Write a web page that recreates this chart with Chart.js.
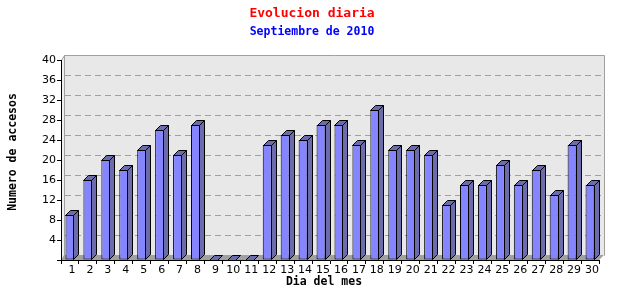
<!DOCTYPE html>
<html>
<head>
<meta charset="utf-8">
<script src="https://cdn.jsdelivr.net/npm/chart.js@4/dist/chart.umd.min.js"></script>
<style>
  html, body { margin: 0; padding: 0; background: #fff; }
  #wrap { width: 640px; height: 300px; }
</style>
</head>
<body>
<div id="wrap"><canvas id="myChart" width="640" height="300"></canvas></div>
<script>
// datos del grafico
const dias = ['1','2','3','4','5','6','7','8','9','10','11','12','13','14','15',
  '16','17','18','19','20','21','22','23','24','25','26','27','28','29','30'];
const accesos = [9, 16, 20, 18, 22, 26, 21, 27, 0, 0, 0, 23, 25, 24, 27,
  27, 23, 30, 22, 22, 21, 11, 15, 15, 19, 15, 18, 13, 23, 15];
const yMax = 40;
const yStep = 4;

const titulo = 'Evolucion diaria';
const subtitulo = 'Septiembre de 2010';
const tituloX = 'Dia del mes';
const tituloY = 'Numero de accesos';

// profundidad del efecto 3D
const DX = 5, DY = 5, WALL_DX = 3;

// pared del fondo, suelo y lineas de guia
const wallPlugin = {
  id: 'wall3d',
  beforeDraw(chart) {
    const ctx = chart.ctx;
    const a = chart.chartArea;
    const y = chart.scales.y;
    ctx.save();
    // pared lateral
    ctx.fillStyle = '#f0f0f0';
    ctx.beginPath();
    ctx.moveTo(a.left, a.top);
    ctx.lineTo(a.left + WALL_DX, a.top - DY);
    ctx.lineTo(a.left + WALL_DX, a.bottom - DY);
    ctx.lineTo(a.left, a.bottom);
    ctx.closePath();
    ctx.fill();
    // pared del fondo
    ctx.fillStyle = '#e8e8e8';
    ctx.fillRect(a.left + WALL_DX, a.top - DY, a.right + DX - a.left - WALL_DX, a.bottom - a.top);
    // lineas punteadas
    ctx.strokeStyle = '#a0a0a0';
    ctx.lineWidth = 1;
    ctx.setLineDash([6, 4]);
    for (let v = yStep; v < yMax; v += yStep) {
      const py = Math.round(y.getPixelForValue(v) - DY) + 0.5;
      ctx.beginPath();
      ctx.moveTo(a.left + WALL_DX + 1, py);
      ctx.lineTo(a.right + DX, py);
      ctx.stroke();
    }
    ctx.setLineDash([]);
    // borde de la pared
    ctx.beginPath();
    ctx.moveTo(a.left + 0.5, a.top + 0.5);
    ctx.lineTo(a.left + WALL_DX + 0.5, a.top - DY + 0.5);
    ctx.lineTo(a.right + DX + 0.5, a.top - DY + 0.5);
    ctx.lineTo(a.right + DX + 0.5, a.bottom - DY + 0.5);
    ctx.moveTo(a.left + WALL_DX + 0.5, a.top - DY + 0.5);
    ctx.lineTo(a.left + WALL_DX + 0.5, a.bottom - DY);
    ctx.stroke();
    // suelo
    ctx.fillStyle = '#a0a0a0';
    ctx.beginPath();
    ctx.moveTo(a.left, a.bottom);
    ctx.lineTo(a.left + WALL_DX, a.bottom - DY);
    ctx.lineTo(a.right + DX, a.bottom - DY);
    ctx.lineTo(a.right, a.bottom);
    ctx.closePath();
    ctx.fill();
    ctx.restore();
  },
  afterDatasetsDraw(chart) {
    const ctx = chart.ctx;
    const meta = chart.getDatasetMeta(0);
    ctx.save();
    ctx.lineWidth = 1;
    ctx.strokeStyle = '#000';
    ctx.fillStyle = '#6c6cac';
    meta.data.forEach((bar) => {
      const p = bar.getProps(['x', 'y', 'base', 'width'], true);
      const l = Math.round(p.x - p.width / 2) + 0.5;
      const r = Math.round(p.x + p.width / 2) - 0.5;
      const t = Math.round(p.y) + 0.5;
      const b = Math.round(p.base) - 0.5;
      // cara superior
      ctx.beginPath();
      ctx.moveTo(l, t);
      ctx.lineTo(l + DX, t - DY);
      ctx.lineTo(r + DX, t - DY);
      ctx.lineTo(r, t);
      ctx.closePath();
      ctx.fill();
      ctx.stroke();
      // cara lateral
      if (b > t) {
        ctx.beginPath();
        ctx.moveTo(r, t);
        ctx.lineTo(r + DX, t - DY);
        ctx.lineTo(r + DX, b - DY);
        ctx.lineTo(r, b);
        ctx.closePath();
        ctx.fill();
        ctx.stroke();
      }
    });
    ctx.restore();
  },
  afterDraw(chart) {
    const ctx = chart.ctx;
    ctx.save();
    ctx.textAlign = 'center';
    ctx.textBaseline = 'middle';
    ctx.fillStyle = '#ff0000';
    ctx.font = 'bold 13px "DejaVu Sans Mono"';
    ctx.fillText(titulo, 312, 14);
    ctx.fillStyle = '#0000ff';
    ctx.font = 'bold 11.5px "DejaVu Sans Mono"';
    ctx.fillText(subtitulo, 312, 32);
    ctx.fillStyle = '#000';
    ctx.font = 'bold 11.5px "DejaVu Sans Mono"';
    ctx.fillText(tituloX, 324, 282);
    ctx.translate(13, 152);
    ctx.rotate(-Math.PI / 2);
    ctx.fillText(tituloY, 0, 0);
    ctx.restore();
  }
};

function renderChart() {
  const ctx = document.getElementById('myChart').getContext('2d');
  new Chart(ctx, {
    type: 'bar',
    data: {
      labels: dias,
      datasets: [{
        data: accesos,
        backgroundColor: '#8585ff',
        borderColor: '#000',
        borderWidth: 1,
        borderSkipped: false,
        barPercentage: 0.5,
        categoryPercentage: 1
      }]
    },
    plugins: [wallPlugin],
    options: {
      responsive: false,
      animation: false,
      layout: { padding: { top: 60, left: 0, right: 41, bottom: 0 } },
      plugins: {
        legend: { display: false },
        tooltip: { enabled: false },
        title: { display: false }
      },
      scales: {
        x: {
          afterFit: (s) => { s.height = 40; },
          grid: { drawOnChartArea: false, tickLength: 4, color: '#000', offset: true },
          border: { color: '#000' },
          ticks: {
            color: '#000',
            padding: 0,
            labelOffset: 2,
            maxRotation: 0,
            autoSkip: false,
            font: { family: '"DejaVu Sans"', size: 11 }
          }
        },
        y: {
          min: 0,
          max: yMax,
          afterFit: (s) => { s.width = 61; },
          grid: { drawOnChartArea: false, tickLength: 4, color: '#000' },
          border: { color: '#000' },
          ticks: {
            stepSize: yStep,
            color: '#000',
            padding: 1,
            font: { family: '"DejaVu Sans"', size: 11 },
            callback: (v) => (v === 0 ? '' : v)
          }
        }
      }
    }
  });
}

renderChart();
</script>
</body>
</html>
